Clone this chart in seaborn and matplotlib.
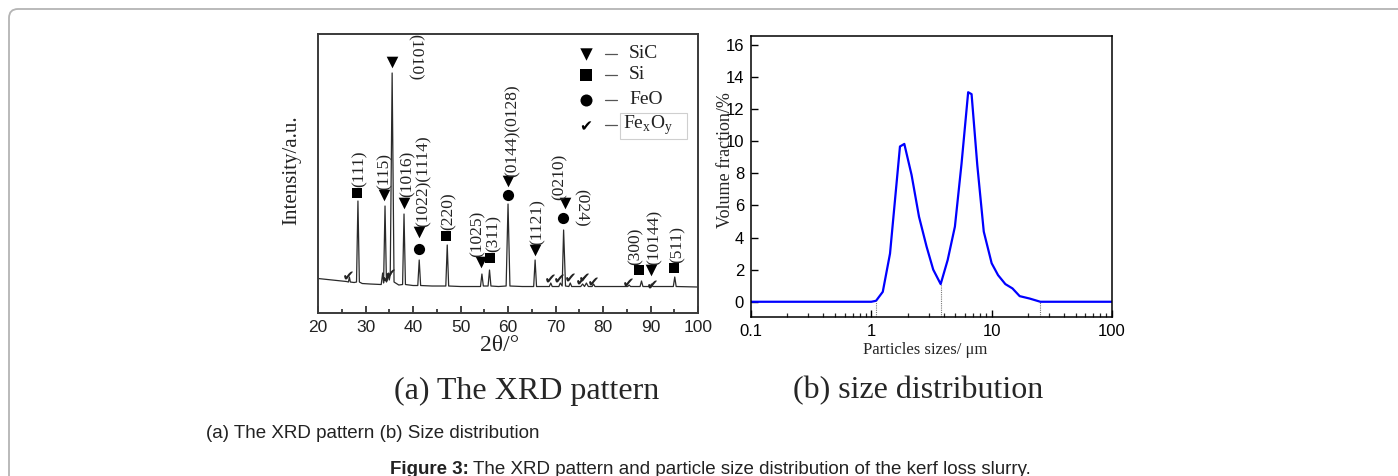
import numpy as np
import pandas as pd
import matplotlib
matplotlib.use("Agg")
import matplotlib.pyplot as plt
import seaborn as sns
from matplotlib.patches import FancyBboxPatch, Rectangle
from matplotlib.ticker import MultipleLocator, LogLocator, NullFormatter, FixedLocator

sns.set_theme(style="white")
plt.rcParams['font.family'] = ['Liberation Sans', 'DejaVu Sans']
SERIF = ['Liberation Serif', 'DejaVu Serif']

# ---- XRD pattern (a), intensity in arbitrary units
xrd_x = [20, 22, 24, 26, 26.4, 26.6, 26.8, 27.6, 28.1, 28.4, 28.7, 29.3, 31, 33.3, 33.6, 33.8,
         34.1, 34.4, 34.6, 34.8, 35.0, 35.2, 35.6, 36.0, 37, 37.8, 38.1, 38.4, 40, 41.0,
         41.3, 41.6, 44, 46.9, 47.2, 47.5, 50, 54.2, 54.5, 54.8, 55.8, 56.1, 56.4, 58,
         59.6, 60.0, 60.4, 63, 65.4, 65.7, 66.0, 68.7, 69.0, 69.3, 70.7, 71.0, 71.4, 71.7,
         72.1, 72.8, 73.1, 73.4, 75.3, 75.7, 76.1, 76.5, 76.9, 77.7, 78.0, 78.3, 82, 85.2,
         85.5, 85.8, 87.8, 88.1, 88.4, 89.9, 90.2, 90.5, 93, 94.8, 95.1, 95.4, 100]
xrd_y = [34.5, 33.5, 32.5, 31.5, 31, 36, 31, 30.5, 31, 112, 31, 29.5, 29, 28.5, 40, 30,
         107, 31, 33, 40, 33, 38, 240, 31, 28, 28.5, 99, 28.5, 27.5, 27.5,
         53, 27.5, 27, 27, 68, 27, 26.5, 26.5, 39, 27, 27, 43, 27, 26.5,
         27, 109, 27, 26.5, 26.5, 53, 26.5, 26.5, 30, 26.5, 26.5, 30, 27, 83,
         27, 26.5, 30, 26.5, 26.5, 29, 26.5, 30, 26.5, 26.5, 29, 26.5, 26.5, 26.5,
         28, 26.5, 26.5, 32, 26.5, 26.5, 29, 26.5, 26.5, 26.5, 36, 26.5, 26]

sic_x = [33.9, 35.6, 38.0, 41.3, 54.4, 60.0, 65.75, 71.9, 90.0]
sic_y = [118, 251, 110, 81, 51, 132, 63, 110, 43]
si_x = [28.2, 47.0, 56.1, 87.6, 94.9]
si_y = [120, 77, 55, 43, 45]
feo_x = [41.3, 60.0, 71.6]
feo_y = [64, 118, 95]
fexoy_x = [26.3, 34.5, 35.1, 68.8, 70.7, 73.0, 75.4, 75.9, 77.9, 85.3, 90.4]
fexoy_y = [38, 36, 40, 35, 35, 36, 33, 36, 32, 31, 29]

hkl_text = ["(111)", "(115)", "(1016)", "(1022)(1114)", "(220)", "(1025)", "(311)",
            "(0144)(0128)", "(1121)", "(0210)", "(300)", "(10144)", "(511)"]
hkl_x = [28.8, 34.0, 38.8, 42.2, 47.4, 53.5, 56.9, 61.05, 66.3, 70.9, 86.9, 90.9, 95.8]
hkl_y = [126, 123, 116, 86, 83, 56, 61, 136, 68, 113, 48, 48, 50]
# labels hanging downwards
hang_text = ["(1010)", "(024)"]
hang_x = [40.35, 75.4]
hang_y = [279, 124]

# ---- particle size distribution (b)
size_um = [0.1, 1.0, 1.095, 1.245, 1.43, 1.73, 1.88, 2.16, 2.49, 2.88, 3.27, 3.77, 4.31, 4.95,
           5.62, 6.38, 6.81, 7.6, 8.6, 10.0, 11.3, 13.0, 14.9, 17.1, 20.7, 25.4, 100]
vol_frac = [0, 0, 0.06, 0.62, 3.0, 9.67, 9.83, 7.9, 5.3, 3.43, 2.0, 1.1, 2.6, 4.68,
            8.6, 13.05, 12.93, 8.5, 4.37, 2.4, 1.66, 1.1, 0.83, 0.35, 0.2, 0.0, 0.0]
cut_sizes = [1.1, 3.77, 25.4]
cut_vals = [0.06, 1.1, 0.0]

xrd = pd.DataFrame({"two_theta": xrd_x, "intensity": xrd_y})
psd = pd.DataFrame({"size": size_um, "vol": vol_frac})

fig = plt.figure(figsize=(13.98, 4.76), dpi=100)
fig.patch.set_facecolor("white")

# outer frame of the page
fig.patches.append(FancyBboxPatch((0.09, -0.6), 14.6, 5.27, transform=fig.dpi_scale_trans,
                                  boxstyle="round,pad=0,rounding_size=0.09",
                                  fc="none", ec="#b4b4b4", lw=1.3))

# ---------------- panel (a)
ax1 = fig.add_axes([0.2275, 0.3424, 0.2718, 0.5862])
sns.lineplot(data=xrd, x="two_theta", y="intensity", ax=ax1, color="#2a2a2a",
             lw=0.9, estimator=None, sort=False)
ax1.scatter(sic_x, sic_y, marker="v", s=70, color="black", zorder=3, linewidths=0)
ax1.scatter(si_x, si_y, marker="s", s=55, color="black", zorder=3, linewidths=0)
ax1.scatter(feo_x, feo_y, marker="o", s=65, color="black", zorder=3, linewidths=0)
ax1.scatter(fexoy_x, fexoy_y, marker="$✔$", s=40, color="#222222", zorder=3, linewidths=0)
for t, x, y in zip(hkl_text, hkl_x, hkl_y):
    ax1.text(x, y, t, rotation=90, ha="center", va="bottom", fontsize=12.5,
             family=SERIF, color="#222222")
for t, x, y in zip(hang_text, hang_x, hang_y):
    ax1.text(x, y, t, rotation=-90, ha="center", va="top", fontsize=12.5,
             family=SERIF, color="#222222")

# legend drawn by hand
leg_mark = ["v", "s", "o", "$✔$"]
leg_size = [80, 65, 75, 45]
leg_label = ["SiC", "Si", "FeO", "Fe$_\\mathregular{x}$O$_\\mathregular{y}$"]
leg_tx = [85.5, 85.5, 85.5, 84.3]
leg_y = [259, 238, 213, 188]
for m, s, lab, tx, y in zip(leg_mark, leg_size, leg_label, leg_tx, leg_y):
    ax1.scatter([76.35], [y], marker=m, s=s, color="black", linewidths=0)
    ax1.plot([80.4, 83.0], [y, y], color="#555555", lw=0.9)
    ax1.text(tx, y, lab, ha="left", va="center", fontsize=14, family=SERIF,
             color="#222222")
ax1.add_patch(Rectangle((83.6, 174), 14.1, 26, fc="none", ec="#cfcfcf", lw=0.8))

ax1.set_xlim(20, 100)
ax1.set_ylim(0, 279)
ax1.xaxis.set_major_locator(MultipleLocator(10))
ax1.xaxis.set_minor_locator(MultipleLocator(5))
ax1.set_yticks([])
ax1.tick_params(axis="x", which="major", direction="in", length=5, width=1.2,
                bottom=True, labelsize=12.5, pad=5, colors="#222222")
ax1.tick_params(axis="x", which="minor", direction="in", length=3, width=1.2, bottom=True)
for sp in ax1.spines.values():
    sp.set_color("#3a3a3a")
    sp.set_linewidth(1.4)
ax1.set_xlabel("2θ/°", family=SERIF, fontsize=17, color="#222222")
ax1.xaxis.set_label_coords(0.479, -0.08)
ax1.set_ylabel("Intensity/a.u.", family=SERIF, fontsize=15, color="#222222")
ax1.yaxis.set_label_coords(-0.045, 0.513)

# ---------------- panel (b)
ax2 = fig.add_axes([0.5372, 0.334, 0.2582, 0.5903])
sns.lineplot(data=psd, x="size", y="vol", ax=ax2, color="#0000ff", lw=1.6,
             estimator=None, sort=False)
ax2.vlines(cut_sizes, -0.95, cut_vals, colors="#777777", linestyles=(0, (1, 1)), lw=0.8)
ax2.set_xscale("log")
ax2.set_xlim(0.1, 100)
ax2.set_ylim(-0.95, 16.55)
ax2.set_xticks([0.1, 1, 10, 100])
ax2.set_xticklabels(["0.1", "1", "10", "100"])
ax2.xaxis.set_minor_locator(LogLocator(base=10, subs=np.arange(2, 10)))
ax2.xaxis.set_minor_formatter(NullFormatter())
ax2.yaxis.set_major_locator(FixedLocator([0, 2, 4, 6, 8, 10, 12, 14, 16]))
ax2.tick_params(axis="both", which="major", direction="in", length=5, width=1,
                bottom=True, left=True, labelsize=12, colors="black")
ax2.tick_params(axis="x", which="major", pad=5)
ax2.tick_params(axis="y", which="major", pad=5)
ax2.tick_params(axis="x", which="minor", direction="in", length=3, width=0.9, bottom=True)
for sp in ax2.spines.values():
    sp.set_color("black")
    sp.set_linewidth(1.1)
ax2.set_xlabel("Particles sizes/ μm", family=SERIF, fontsize=12)
ax2.xaxis.set_label_coords(0.482, -0.088)
ax2.set_ylabel("Volume fraction/%", family=SERIF, fontsize=13)
ax2.yaxis.set_label_coords(-0.047, 0.559)

# ---------------- captions
fig.text(527 / 1398, 1 - 391 / 476, "(a) The XRD pattern", family=SERIF, fontsize=23,
         ha="center", va="center")
fig.text(918 / 1398, 1 - 391 / 476, "(b) size distribution", family=SERIF, fontsize=23,
         ha="center", va="center")
fig.text(206 / 1398, 1 - 433 / 476, "(a) The XRD pattern (b) Size distribution",
         fontsize=13.5, ha="left", va="center", color="#222222")
fig_lab = fig.text(390 / 1398, 1 - 469 / 476, "Figure 3:", fontsize=13.5, fontweight="bold",
                   ha="left", va="center", color="#222222")
fig.canvas.draw()
bb = fig_lab.get_window_extent()
fig.text((bb.x1 + 4) / 1398, 1 - 469 / 476,
         "The XRD pattern and particle size distribution of the kerf loss slurry.",
         fontsize=13.5, ha="left", va="center", color="#222222")

fig.savefig("out.png", dpi=100, facecolor="white")
